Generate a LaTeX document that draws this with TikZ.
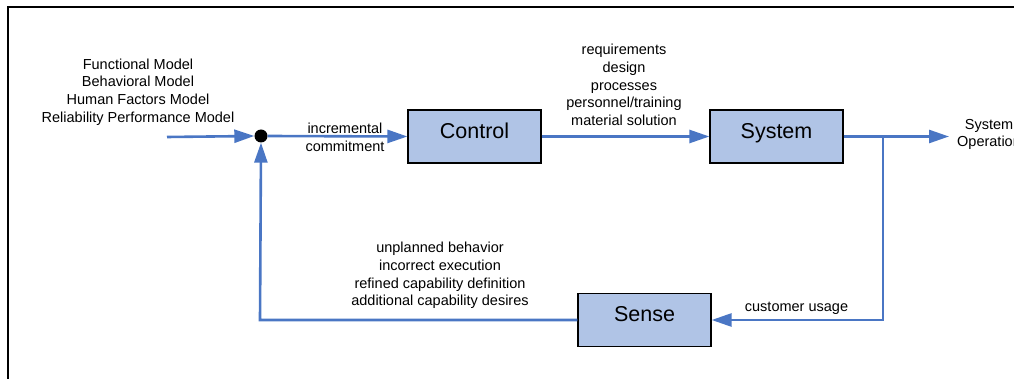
\documentclass[tikz,border=0pt]{standalone}
\usepackage{fontspec}
\setmainfont{Liberation Sans}
\usetikzlibrary{arrows.meta}
\definecolor{flowblue}{HTML}{4A76C4}
\definecolor{boxfill}{HTML}{B0C4E6}
\tikzset{
  blockbox/.style={draw=black, line width=1.2pt, fill=boxfill, minimum width=133pt,
    minimum height=53pt, inner sep=0pt, text height=15.5pt, text depth=12pt,
    font=\fontsize{21.5}{24}\selectfont},
  note/.style={align=center, inner sep=0pt, font=\fontsize{14.5}{17.7}\selectfont},
  flow/.style={draw=flowblue, line width=2.6pt},
  flowarrow/.style={flow, -{Triangle[length=20pt,width=13pt]}},
  junction/.style={circle, fill=black, minimum size=13pt, inner sep=0pt},
}
\begin{document}
\begin{tikzpicture}[x=1pt,y=-1pt]
  \useasboundingbox (0,0) rectangle (1014,379);
  % outer frame (left and top edges)
  \draw[line width=2pt] (8.3,390) -- (8.3,7.5) -- (1030,7.5);

  % blocks
  \node[blockbox] (control) at (474.5,136.5) {Control};
  \node[blockbox] (system)  at (776.5,136.5) {System};
  \node[blockbox] (sense)   at (644.5,320)   {Sense};
  \node[junction] (sum) at (261,136) {};

  % routing points
  \coordinate (in)    at (167,137);
  \coordinate (tap)   at (883,136.5);
  \coordinate (out)   at (949,136.5);
  \coordinate (tapdn) at (883,320);
  \coordinate (fbdn)  at (260,320);

  % connectors
  \draw[flowarrow] (in) -- (sum.west);
  \draw[flowarrow] (sum.east) -- (control.west);
  \draw[flowarrow] (control.east) -- (system.west);
  \draw[flowarrow] (system.east) -- (out);
  \draw[flowarrow] (tap) -- (tapdn) -- (sense.east);
  \draw[flowarrow] (sense.west) -- (fbdn) -- (sum.south);

  % labels
  \node[note] (models) at (138,92) {Functional Model\\Behavioral Model\\Human Factors Model\\Reliability Performance Model};
  \node[note] (incr) at (345,137.5) {incremental\\commitment};
  \node[note] (deliv) at (624,85) {requirements\\design\\processes\\personnel/training\\material solution};
  \node[note] (sysop) at (989,134.5) {System\\Operation};
  \node[note] (feedback) at (440,275.5) {unplanned behavior\\incorrect execution\\refined capability definition\\additional capability desires};
  \node[note] (usage) at (796.5,308) {customer usage};
\end{tikzpicture}
\end{document}
